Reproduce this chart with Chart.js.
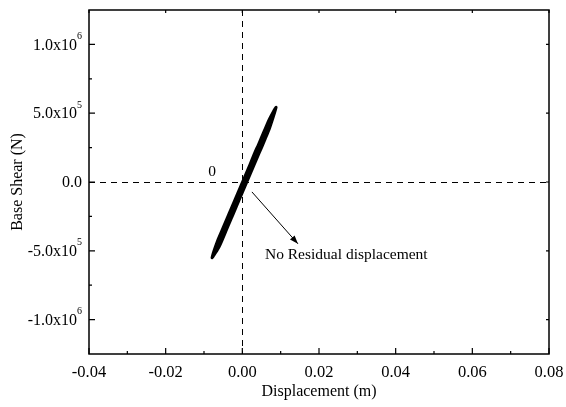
<!DOCTYPE html>
<html>
<head>
<meta charset="utf-8">
<script src="https://cdn.jsdelivr.net/npm/chart.js@4.4.0/dist/chart.umd.min.js"></script>
<style>
  html, body { margin: 0; padding: 0; background: #fff; }
  #wrap { width: 566px; height: 407px; }
</style>
</head>
<body>
<div id="wrap"><canvas id="grafica"></canvas></div>
<script>
// datos
const desplazamiento = [0, 0.002, 0.004, 0.0055, 0.004, 0.002, 0, -0.002, -0.0045, -0.003, -0.001, 0.001, 0.003, 0.005, 0.007, 0.0088,
  0.007, 0.005, 0.003, 0.001, -0.001, -0.003, -0.005, -0.0065, -0.0079, -0.006, -0.004, -0.002, 0, 0.002, 0.004, 0.006, 0.0078,
  0.006, 0.004, 0.002, 0, -0.002, -0.004, -0.0068, -0.005, -0.003, -0.001, 0.0005,
  0.002, 0.004, 0.006, 0.0072, 0.006, 0.004, 0.002, 0, -0.002, -0.004, -0.006, -0.0074, -0.006, -0.004, -0.002, 0,
  0.002, 0.004, 0.0062, 0.004, 0.002, 0, -0.002, -0.0042, -0.002, 0, 0.0008];
const cortante = [-0.4e5, 0.56e5, 1.87e5, 2.85e5, 2.57e5, 1.26e5, -0.05e5, -1.36e5, -3.3e5, -2.71e5, -1.4e5, -0.1e5, 1.21e5, 2.52e5, 3.83e5, 5.43e5,
  4.53e5, 3.22e5, 1.91e5, 0.6e5, -0.7e5, -2.01e5, -3.32e5, -4.3e5, -5.5e5, -4.67e5, -3.37e5, -2.06e5, -0.75e5, 0.56e5, 1.87e5, 3.17e5, 4.75e5,
  3.87e5, 2.57e5, 1.26e5, -0.05e5, -1.36e5, -2.67e5, -4.85e5, -4.02e5, -2.71e5, -1.4e5, -0.3e5,
  0.71e5, 2.02e5, 3.32e5, 4.2e5, 3.72e5, 2.42e5, 1.11e5, -0.2e5, -1.51e5, -2.82e5, -4.12e5, -5.1e5, -4.52e5, -3.22e5, -1.91e5, -0.6e5,
  0.71e5, 2.02e5, 3.6e5, 2.42e5, 1.11e5, -0.2e5, -1.51e5, -3.1e5, -1.91e5, -0.6e5, -0.1e5];

const xTicks = [-0.04, -0.02, 0, 0.02, 0.04, 0.06, 0.08];
const xMinor = [-0.03, -0.01, 0.01, 0.03, 0.05, 0.07];
const yTicks = [-1e6, -5e5, 0, 5e5, 1e6];
const yMinor = [-7.5e5, -2.5e5, 2.5e5, 7.5e5];
const yTickLabels = [['-1.0x10', '6'], ['-5.0x10', '5'], ['0.0', ''], ['5.0x10', '5'], ['1.0x10', '6']];

const fuente = '"Liberation Serif", "Times New Roman", serif';

const puntos = desplazamiento.map((d, i) => ({ x: d, y: cortante[i] }));

/**
 * Plugin que dibuja marco, ticks hacia dentro, lineas discontinuas y anotaciones
 */
const decoracion = {
  id: 'decoracion',
  beforeDatasetsDraw(chart) {
    const { ctx, chartArea: a, scales: { x, y } } = chart;
    ctx.save();
    ctx.strokeStyle = '#000';
    ctx.lineWidth = 1;
    ctx.setLineDash([6, 5]);
    const x0 = x.getPixelForValue(0), y0 = y.getPixelForValue(0);
    ctx.beginPath();
    ctx.moveTo(Math.round(x0) + 0.5, a.top); ctx.lineTo(Math.round(x0) + 0.5, a.bottom);
    ctx.moveTo(a.left, Math.round(y0) + 0.5); ctx.lineTo(a.right, Math.round(y0) + 0.5);
    ctx.stroke();
    ctx.restore();
  },
  afterDraw(chart) {
    const { ctx, chartArea: a, scales: { x, y } } = chart;
    ctx.save();
    ctx.strokeStyle = '#000';
    // marco
    ctx.lineWidth = 1.5;
    ctx.strokeRect(a.left, a.top, a.right - a.left, a.bottom - a.top);
    // ticks
    ctx.lineWidth = 1.2;
    ctx.beginPath();
    xTicks.forEach(v => {
      const p = x.getPixelForValue(v);
      ctx.moveTo(p, a.bottom); ctx.lineTo(p, a.bottom - 6);
      ctx.moveTo(p, a.top); ctx.lineTo(p, a.top + 3);
    });
    xMinor.forEach(v => {
      const p = x.getPixelForValue(v);
      ctx.moveTo(p, a.bottom); ctx.lineTo(p, a.bottom - 3);
    });
    yTicks.forEach(v => {
      const p = y.getPixelForValue(v);
      ctx.moveTo(a.left, p); ctx.lineTo(a.left + 6, p);
      ctx.moveTo(a.right, p); ctx.lineTo(a.right - 3, p);
    });
    yMinor.forEach(v => {
      const p = y.getPixelForValue(v);
      ctx.moveTo(a.left, p); ctx.lineTo(a.left + 3, p);
    });
    ctx.stroke();

    // etiquetas del eje y con exponente
    ctx.fillStyle = '#000';
    ctx.textBaseline = 'middle';
    yTicks.forEach((v, i) => {
      const p = y.getPixelForValue(v);
      const [base, exp] = yTickLabels[i];
      ctx.font = '10px ' + fuente;
      const expW = exp ? ctx.measureText(exp).width : 0;
      const right = a.left - 7;
      if (exp) {
        ctx.textAlign = 'left';
        ctx.fillText(exp, right - expW, p - 8);
      }
      ctx.font = '16px ' + fuente;
      ctx.textAlign = 'right';
      ctx.fillText(base, right - expW, p + 1);
    });

    // anotaciones
    ctx.font = '15.5px ' + fuente;
    ctx.textAlign = 'center';
    ctx.fillText('0', x.getPixelForValue(-0.0079), y.getPixelForValue(0.72e5));
    ctx.textAlign = 'left';
    ctx.fillText('No Residual displacement', x.getPixelForValue(0.0059), y.getPixelForValue(-5.29e5));

    // flecha
    const x1 = x.getPixelForValue(0.0025), y1 = y.getPixelForValue(-0.72e5);
    const x2 = x.getPixelForValue(0.0145), y2 = y.getPixelForValue(-4.49e5);
    ctx.lineWidth = 1;
    ctx.beginPath();
    ctx.moveTo(x1, y1); ctx.lineTo(x2, y2);
    ctx.stroke();
    const ang = Math.atan2(y2 - y1, x2 - x1);
    ctx.beginPath();
    ctx.moveTo(x2, y2);
    ctx.lineTo(x2 - 9 * Math.cos(ang - 0.35), y2 - 9 * Math.sin(ang - 0.35));
    ctx.lineTo(x2 - 9 * Math.cos(ang + 0.35), y2 - 9 * Math.sin(ang + 0.35));
    ctx.closePath();
    ctx.fill();
    ctx.restore();
  }
};

const grafica = new Chart(document.getElementById('grafica'), {
  type: 'scatter',
  data: {
    datasets: [{
      data: puntos,
      showLine: true,
      borderColor: '#000',
      backgroundColor: '#000',
      borderWidth: 3,
      pointRadius: 0,
      tension: 0.2
    }]
  },
  options: {
    responsive: true,
    maintainAspectRatio: false,
    animation: false,
    layout: { padding: { top: 10, right: 17, left: 4, bottom: 2 } },
    plugins: { legend: { display: false }, tooltip: { enabled: false } },
    scales: {
      x: {
        min: -0.04, max: 0.08,
        afterBuildTicks: s => { s.ticks = xTicks.map(v => ({ value: v })); },
        afterFit: s => { s.height = 51; },
        grid: { display: false },
        border: { display: false },
        ticks: {
          color: '#000', padding: 1,
          font: { family: fuente, size: 16.5 },
          callback: v => v.toFixed(2)
        },
        title: {
          display: true, text: 'Displacement (m)', color: '#000', padding: { top: 0 },
          font: { family: fuente, size: 16 }
        }
      },
      y: {
        min: -1.25e6, max: 1.25e6,
        afterBuildTicks: s => { s.ticks = yTicks.map(v => ({ value: v })); },
        afterFit: s => { s.width = 85; },
        grid: { display: false },
        border: { display: false },
        ticks: { display: false },
        title: {
          display: true, text: 'Base Shear (N)', color: '#000', padding: { bottom: 0, top: 4 },
          font: { family: fuente, size: 16 }
        }
      }
    }
  },
  plugins: [decoracion]
});
</script>
</body>
</html>
